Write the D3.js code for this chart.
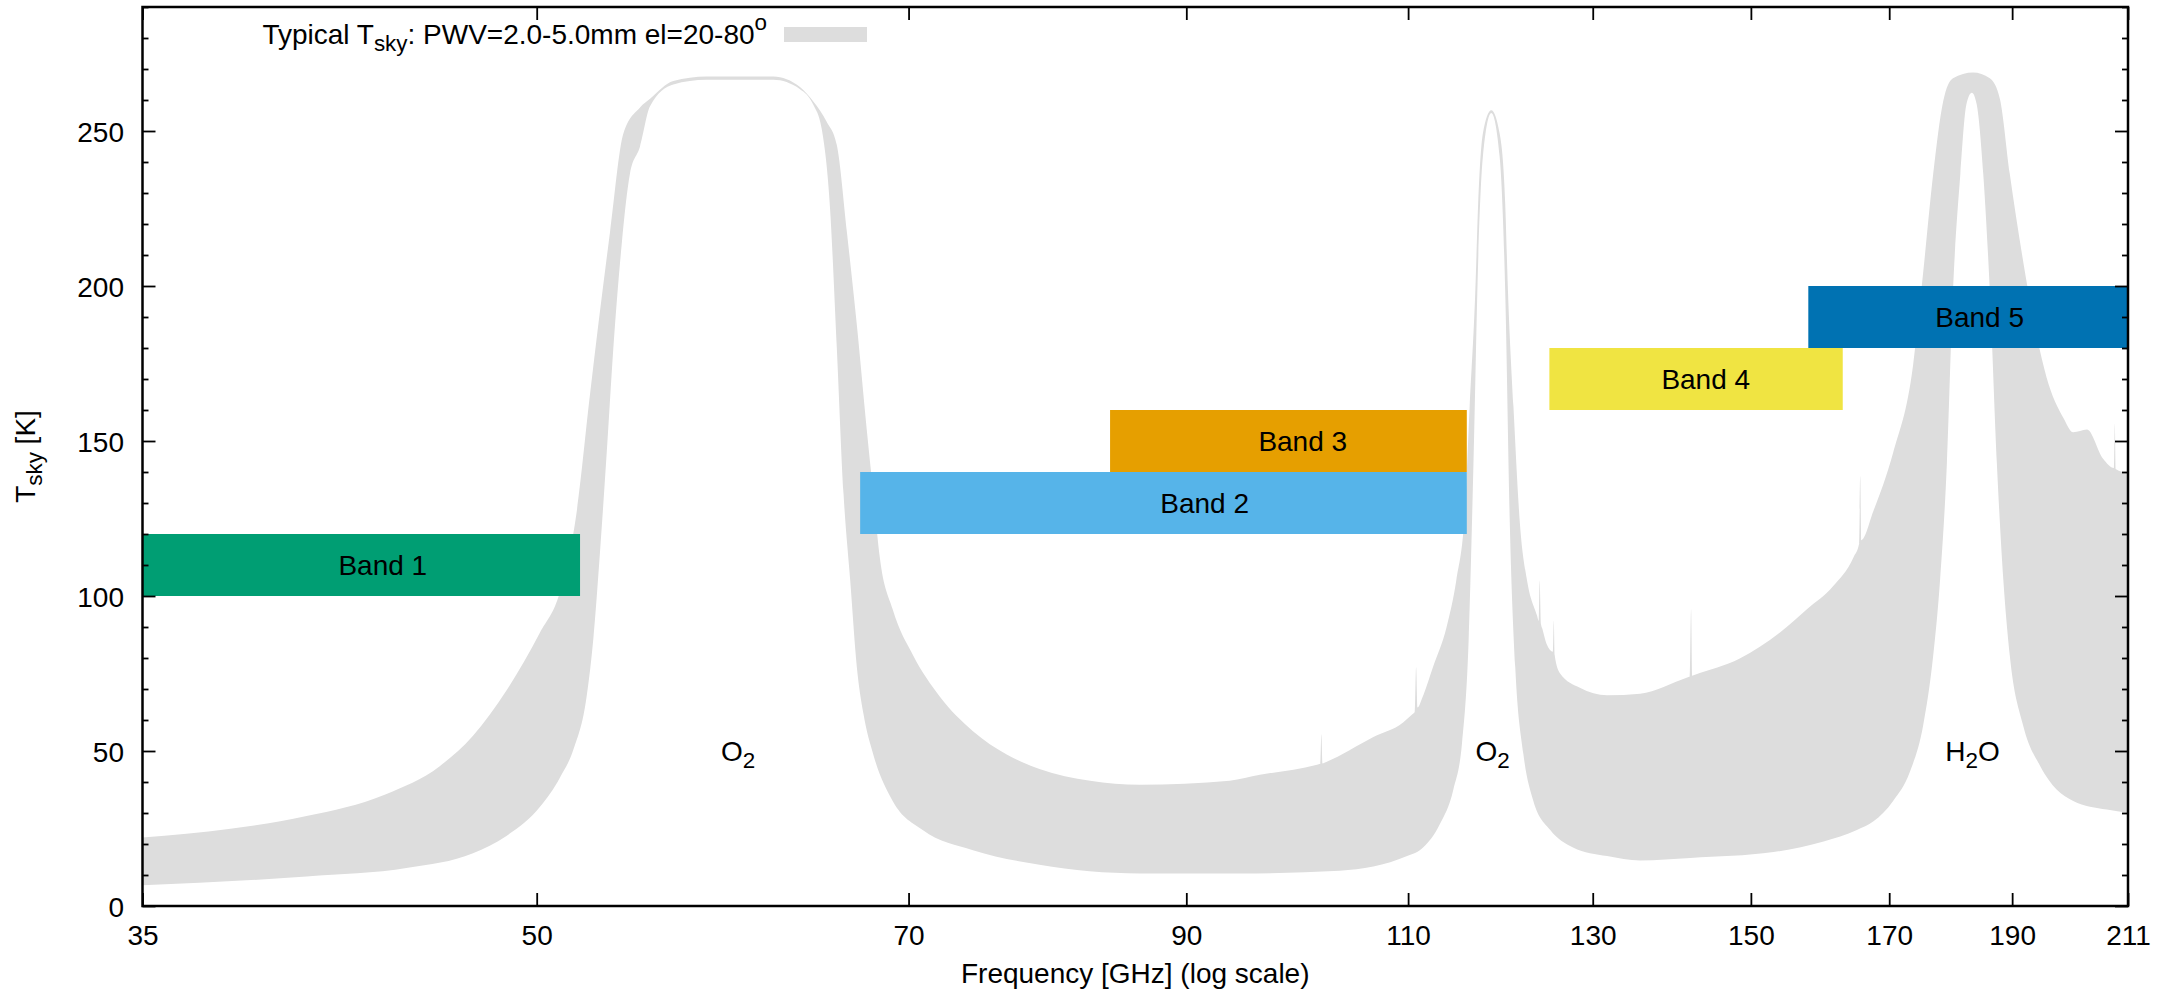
<!DOCTYPE html>
<html>
<head>
<meta charset="utf-8">
<script src="https://cdn.jsdelivr.net/npm/d3@7/dist/d3.min.js"></script>
<style>
  body { margin: 0; background: #fff; }
  svg text { font-family: "Liberation Sans", Arial, Helvetica, sans-serif; fill: #000; }
</style>
</head>
<body>
<svg id="chart" width="2176" height="995"></svg>
<script>
// axis ticks
var freqTicks = [35, 50, 70, 90, 110, 130, 150, 170, 190, 211];
var tskyTicks = [0, 50, 100, 150, 200, 250];

// receiver bands [GHz] and the Tsky slot each bar sits in
var bandNames = ["Band 1", "Band 2", "Band 3", "Band 4", "Band 5"];
var bandLow   = [35, 67, 84, 125, 158];
var bandHigh  = [52, 116, 116, 163, 211];
var bandBot   = [100, 120, 140, 160, 180];
var bandTop   = [120, 140, 160, 180, 200];
var bandColors = ["#009e73", "#56b4e9", "#e69f00", "#f0e442", "#0072b2"];

// line labels
var lineNames = ["O2", "O2", "H2O"];
var lineFreq  = [60, 118.75, 183.3];
var lineTsky  = [50, 50, 50];

// upper edge of the Tsky range (PWV=5mm, el=20)
var hiFreq = [35.0, 37.9, 40.6, 43.6, 45.8, 47.2, 48.65, 50.15, 51.06, 51.85, 52.47, 53.43, 54.08, 54.9, 55.4, 56.58,
  58.3, 60.1, 61.94, 63.45, 64.22, 65.0, 65.6, 66.2, 66.8, 67.4, 67.8, 68.2, 69.0, 70.3, 72.0, 74.2, 76.5, 78.8,
  82.5, 86.3, 93.6, 96.2, 101.3, 101.6, 101.7, 101.8, 102.1, 106.6, 109.5, 110.4, 110.65, 110.8, 110.95, 111.4,
  112.5, 113.9, 114.9, 115.8,
  116.3, 116.9, 117.2, 117.7, 118.6, 119.5, 120.1, 120.4, 121.0, 121.7, 122.5, 123.6, 123.8, 123.9, 124.05, 124.2,
  124.7, 125.4, 125.5, 125.6, 126.2, 128.5, 131.7, 135.7, 141.6, 141.95, 142.1, 142.25, 142.6, 148.5, 154.0, 157.8,
  161.6, 164.6, 165.45, 165.6, 165.75, 167.6, 170.6, 173.7, 175.3, 176.9, 178.5, 180.1, 183.4, 186.2, 187.9, 189.6,
  191.9, 194.3, 196.0, 199.0, 200.8, 203.3, 206.3, 208.35, 208.5, 208.65, 211];
var hiTsky = [22.1, 24.9, 29, 36, 45.1, 54.9, 69.5, 88.2, 101.3, 127.5, 165, 217.4, 249.2, 257.6, 260.4, 266.1,
  267.6, 267.6, 267.6, 264.2, 259.5, 253, 245.5, 217.4, 187.4, 153.7, 133.1, 112.5, 95.7, 80.7, 67.6, 56.4, 48.9, 44.2,
  40.4, 39.1, 40.4, 42.3, 45.6, 45.9, 55.4, 46.0, 46.4, 54.5, 59.2, 61.8, 62.5, 77, 64, 67,
  77, 90, 105, 127.5,
  161.2, 198.6, 226.7, 249.2, 256.7, 249.2, 226.7, 198.6, 161.2, 123.8, 105, 93.8, 92, 105, 91, 89.5,
  84.4, 82, 92, 81, 75.1, 70.4, 68, 68.5, 73.7, 74, 95.7, 74.3, 74.6, 79.8, 88.2, 95.7,
  103.2, 112.5, 117, 138.7, 118, 127.5, 146.2, 174.3, 204.3, 236.1, 259.5, 267, 268.9, 267, 260.4, 236.1,
  208, 183.7, 170.6, 157.5, 152.8, 153.7, 144.3, 141.3, 155.6, 141, 139.7];

// lower edge of the Tsky range (PWV=2mm, el=80)
var loFreq = [35.0, 40.6, 44.5, 47.2, 48.65, 50.15, 51.06, 51.7, 52.31, 52.63, 52.95, 53.27, 53.59, 54.0, 54.4, 54.9,
  55.4, 56.58, 58.3, 60.1, 61.94, 63.45, 64.22, 64.7, 65.2, 65.6, 66.0, 66.4, 66.8, 67.2, 67.8, 69.0, 70.9, 74.2,
  78.8, 86.3, 94.5, 103.4, 109.9, 111.5, 113.2, 114.6, 115.5, 116.2, 116.7, 117.2, 117.7, 118.6, 119.5, 120.1,
  120.6, 121.2, 122.1, 123.2, 125.1, 127.7, 131.7, 135.7, 142.0, 153.1, 160.2, 165.1, 167.6, 170.6, 173.2, 175.3,
  176.9, 178.0, 179.1, 180.1, 181.3, 182.3, 183.2, 184.0, 185.1, 186.2, 187.4, 188.5, 189.6, 191.9, 194.9, 197.8,
  200.8, 207.0, 211];
var loTsky = [6.7, 9.5, 12.3, 17.0, 22.6, 32.0, 41.4, 50.7, 67.6, 86.3, 114.4, 146.2, 179.9, 213.6, 236.1, 245,
  258, 265, 266.5, 266.5, 266.5, 263.5, 258.5, 251, 224.9, 180, 133, 105, 77, 62, 48.9, 33.9, 24.5, 18,
  13.3, 10.5, 10.5, 11.4, 16.1, 18.9, 26.4, 37.6, 52.6, 86.3, 142.5, 208, 241.7, 255.8, 241.7, 198.6,
  123.8, 77, 48.9, 33.9, 24.5, 18.9, 16.1, 14.7, 15.5, 17.4, 20.8, 24.5, 27.3, 33.9, 43.2, 58.2,
  80.7, 105, 142.5, 198.6, 236.1, 258.6, 262.3, 258.6, 236.1, 198.6, 142.5, 105, 80.7, 58.2, 45.1, 37.6,
  33.9, 31.1, 30.1];

//Setting
var svg = d3.select("#chart"),
    M = { left: 142.5, right: 2128, top: 7, bottom: 906 },
    fontSize = 28,
    x = d3.scaleLog().domain([35, 211]).range([M.left, M.right]),
    y = d3.scaleLinear().domain([0, 290]).range([M.bottom, M.top]);

// grey Tsky range: upper edge forward, lower edge back
var hiPts = hiFreq.map(function(f, i) { return [f, hiTsky[i]]; });
var loPts = loFreq.map(function(f, i) { return [f, loTsky[i]]; }).reverse();
var line = d3.line()
  .x(function(d) { return x(d[0]); })
  .y(function(d) { return y(d[1]); })
  .curve(d3.curveMonotoneX);

svg.append("path")
  .attr("d", line(hiPts) + line(loPts).replace(/^M/, "L") + "Z")
  .attr("fill", "#dddddd")
  .attr("stroke", "none");

// bands
var bands = bandNames.map(function(n, i) {
  return { name: n, lo: bandLow[i], hi: bandHigh[i], b: bandBot[i], t: bandTop[i], c: bandColors[i] };
});

svg.selectAll("rect.band")
  .data(bands)
  .enter()
  .append("rect")
  .attr("class", "band")
  .attr("x", function(d) { return x(d.lo); })
  .attr("width", function(d) { return x(d.hi) - x(d.lo); })
  .attr("y", function(d) { return y(d.t); })
  .attr("height", function(d) { return y(d.b) - y(d.t); })
  .attr("fill", function(d) { return d.c; });

svg.selectAll("text.band")
  .data(bands)
  .enter()
  .append("text")
  .attr("class", "band")
  .attr("x", function(d) { return x((d.lo + d.hi) / 2); })
  .attr("y", function(d) { return y((d.b + d.t) / 2); })
  .attr("dy", "0.36em")
  .attr("text-anchor", "middle")
  .attr("font-size", fontSize)
  .text(function(d) { return d.name; });

// molecule labels with subscript 2
lineNames.forEach(function(n, i) {
  var t = svg.append("text")
    .attr("x", x(lineFreq[i]))
    .attr("y", y(lineTsky[i]))
    .attr("dy", "0.36em")
    .attr("text-anchor", "middle")
    .attr("font-size", fontSize);
  var parts = n.split("2");
  t.append("tspan").text(parts[0]);
  t.append("tspan").attr("font-size", fontSize * 0.8).attr("dy", 7).text("2");
  if (parts[1]) t.append("tspan").attr("dy", -7).text(parts[1]);
});

// axes, inward ticks, mirrored
var tickLen = 13, minorLen = 6;
var xAxis = d3.axisBottom(x).tickValues(freqTicks).tickFormat(d3.format("d")).tickSize(-tickLen).tickPadding(19);
var xTop = d3.axisTop(x).tickValues(freqTicks).tickFormat("").tickSize(-tickLen);
var minorT = d3.range(0, 291, 10).filter(function(v) { return v % 50 !== 0; });
var yAxis = d3.axisLeft(y).tickValues(tskyTicks).tickSize(-tickLen).tickPadding(18.5);
var yMinor = d3.axisLeft(y).tickValues(minorT).tickFormat("").tickSize(-minorLen);
var yRight = d3.axisRight(y).tickValues(tskyTicks).tickFormat("").tickSize(-tickLen);
var yRightMinor = d3.axisRight(y).tickValues(minorT).tickFormat("").tickSize(-minorLen);

function styleAxis(g) {
  g.select(".domain").remove();
  g.selectAll("line").attr("stroke", "#000").attr("stroke-width", 1.8);
  g.selectAll("text").attr("font-size", fontSize).attr("font-family", "Liberation Sans, Arial, sans-serif").attr("fill", "#000");
}

svg.append("g").attr("transform", "translate(0," + M.bottom + ")").call(xAxis).call(styleAxis);
svg.append("g").attr("transform", "translate(0," + M.top + ")").call(xTop).call(styleAxis);
svg.append("g").attr("transform", "translate(" + M.left + ",0)").call(yAxis).call(styleAxis)
  .selectAll("text").attr("dy", "0.36em");
svg.append("g").attr("transform", "translate(" + M.left + ",0)").call(yMinor).call(styleAxis);
svg.append("g").attr("transform", "translate(" + M.right + ",0)").call(yRight).call(styleAxis);
svg.append("g").attr("transform", "translate(" + M.right + ",0)").call(yRightMinor).call(styleAxis);

// border
svg.append("rect")
  .attr("x", M.left).attr("y", M.top)
  .attr("width", M.right - M.left).attr("height", M.bottom - M.top)
  .attr("fill", "none").attr("stroke", "#000").attr("stroke-width", 2.5);

// axis titles
var yl = svg.append("text")
  .attr("transform", "translate(35," + ((M.top + M.bottom) / 2) + ") rotate(-90)")
  .attr("text-anchor", "middle")
  .attr("font-size", fontSize);
yl.append("tspan").text("T");
yl.append("tspan").attr("font-size", fontSize * 0.8).attr("dy", 7).text("sky");
yl.append("tspan").attr("dy", -7).text(" [K]");

svg.append("text")
  .attr("x", (M.left + M.right) / 2)
  .attr("y", 983)
  .attr("text-anchor", "middle")
  .attr("font-size", fontSize)
  .text("Frequency [GHz] (log scale)");

// key
var key = svg.append("text")
  .attr("x", 767).attr("y", 44)
  .attr("text-anchor", "end")
  .attr("font-size", fontSize);
key.append("tspan").text("Typical T");
key.append("tspan").attr("font-size", fontSize * 0.8).attr("dy", 7).text("sky");
key.append("tspan").attr("dy", -7).text(": PWV=2.0-5.0mm el=20-80");
key.append("tspan").attr("font-size", fontSize * 0.8).attr("dy", -14).text("o");

svg.append("rect")
  .attr("x", 784).attr("y", 27)
  .attr("width", 83).attr("height", 15)
  .attr("fill", "#dddddd");
</script>
</body>
</html>
